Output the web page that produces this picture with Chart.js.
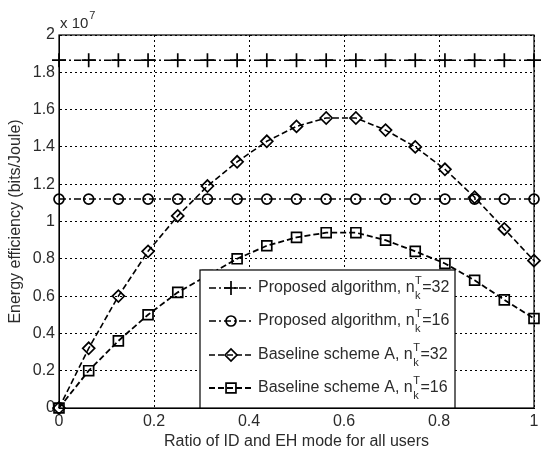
<!DOCTYPE html>
<html>
<head>
<meta charset="utf-8">
<script src="https://cdn.jsdelivr.net/npm/chart.js@4.4.0/dist/chart.umd.min.js"></script>
<style>
html,body{margin:0;padding:0;background:#fff;}
canvas{display:block;}
</style>
</head>
<body>
<canvas id="c" width="550" height="457"></canvas>
<script>
// x values: ratio of ID and EH mode
const ratios = [0, 0.0625, 0.125, 0.1875, 0.25, 0.3125, 0.375, 0.4375, 0.5, 0.5625, 0.625, 0.6875, 0.75, 0.8125, 0.875, 0.9375, 1];
// energy efficiency values in units of 1e7 bits/Joule
const proposed32 = [1.865, 1.865, 1.865, 1.865, 1.865, 1.865, 1.865, 1.865, 1.865, 1.865, 1.865, 1.865, 1.865, 1.865, 1.865, 1.865, 1.865];
const proposed16 = [1.12, 1.12, 1.12, 1.12, 1.12, 1.12, 1.12, 1.12, 1.12, 1.12, 1.12, 1.12, 1.12, 1.12, 1.12, 1.12, 1.12];
const baseline32 = [0, 0.32, 0.60, 0.84, 1.03, 1.19, 1.32, 1.43, 1.51, 1.555, 1.555, 1.49, 1.40, 1.28, 1.13, 0.96, 0.79];
const baseline16 = [0, 0.20, 0.36, 0.50, 0.62, 0.71, 0.80, 0.87, 0.915, 0.94, 0.94, 0.90, 0.84, 0.775, 0.685, 0.58, 0.48];
const seriesNames = ["Proposed algorithm, n", "Proposed algorithm, n", "Baseline scheme A, n", "Baseline scheme A, n"];
const seriesSuffix = ["=32", "=16", "=32", "=16"];
const xTicks = [0, 0.2, 0.4, 0.6, 0.8, 1];
const yTicks = [0, 0.2, 0.4, 0.6, 0.8, 1, 1.2, 1.4, 1.6, 1.8, 2];

const FONT = "Liberation Sans, Arial, sans-serif";
const TXT = "#2b2b2b";
const FS = 16;
const dashDot = [7, 3, 2, 3];
const dashed = [6, 3];

function pts(arr){ return ratios.map((x,i)=>({x:x, y:arr[i]})); }

const styles = [
  {pointStyle:'cross', radius:7, dash:dashDot, width:1.5},
  {pointStyle:'circle', radius:5, dash:dashDot, width:1.5},
  {pointStyle:'rectRot', radius:6, dash:dashed, width:1.6},
  {pointStyle:'rect', radius:7, dash:dashed, width:1.8}
];
const allData = [proposed32, proposed16, baseline32, baseline16];

const datasets = allData.map((d,i)=>({
  label: seriesNames[i] + seriesSuffix[i],
  data: pts(d),
  borderColor: '#000',
  backgroundColor: 'rgba(0,0,0,0)',
  borderWidth: styles[i].width,
  borderDash: styles[i].dash,
  pointStyle: styles[i].pointStyle,
  pointRadius: styles[i].radius,
  pointBorderWidth: 1.7,
  pointBorderColor: '#000',
  pointBackgroundColor: 'rgba(0,0,0,0)',
  tension: 0,
  clip: false
}));

function drawMarker(ctx, style, x, y){
  ctx.save();
  ctx.setLineDash([]);
  ctx.lineWidth = 1.7;
  ctx.strokeStyle = '#000';
  ctx.fillStyle = 'rgba(0,0,0,0)';
  Chart.helpers.drawPoint(ctx, {pointStyle: style.pointStyle, radius: style.radius, borderWidth: 1.7, rotation: 0}, x, y);
  ctx.restore();
}

const framePlugin = {
  id: 'frame',
  beforeDatasetsDraw(chart){
    const a = chart.chartArea, ctx = chart.ctx;
    ctx.save();
    ctx.strokeStyle = '#000';
    ctx.lineWidth = 1.2;
    ctx.setLineDash([]);
    ctx.strokeRect(a.left, a.top, a.right - a.left, a.bottom - a.top);
    // exponent label
    ctx.fillStyle = TXT;
    ctx.font = "15px " + FONT;
    ctx.textBaseline = 'alphabetic';
    ctx.textAlign = 'left';
    ctx.fillText("x 10", a.left + 1, a.top - 7);
    const w = ctx.measureText("x 10").width;
    ctx.font = "11px " + FONT;
    ctx.fillText("7", a.left + 2 + w, a.top - 16);
    ctx.restore();
  },
  afterDatasetsDraw(chart){
    const ctx = chart.ctx;
    const a = chart.chartArea;
    const bx = 200, by = 270, bw = 255, bh = a.bottom - 270;
    ctx.save();
    ctx.fillStyle = '#fff';
    ctx.fillRect(bx, by, bw, bh);
    ctx.strokeStyle = '#000';
    ctx.lineWidth = 1.2;
    ctx.setLineDash([]);
    ctx.strokeRect(bx, by, bw, bh);
    const rows = [288, 321, 355, 388];
    for (let i = 0; i < 4; i++){
      const y = rows[i];
      ctx.save();
      ctx.strokeStyle = '#000';
      ctx.lineWidth = styles[i].width;
      ctx.setLineDash(styles[i].dash);
      ctx.beginPath();
      ctx.moveTo(209, y);
      ctx.lineTo(253, y);
      ctx.stroke();
      ctx.restore();
      drawMarker(ctx, styles[i], 231, y);
      ctx.fillStyle = TXT;
      ctx.font = FS + "px " + FONT;
      ctx.textAlign = 'left';
      ctx.textBaseline = 'middle';
      let x = 258;
      ctx.fillText(seriesNames[i], x, y);
      x += ctx.measureText(seriesNames[i]).width + 0.5;
      ctx.font = "11px " + FONT;
      ctx.fillText("T", x, y - 7);
      ctx.fillText("k", x, y + 8);
      x += ctx.measureText("T").width + 0.5;
      ctx.font = FS + "px " + FONT;
      ctx.fillText(seriesSuffix[i], x, y);
    }
    ctx.restore();
  }
};

function fmt(v){ return String(+(+v).toFixed(1)); }

new Chart(document.getElementById('c'), {
  type: 'line',
  data: { datasets },
  options: {
    responsive: false,
    animation: false,
    layout: { padding: { top: 35, right: 16, left: 0, bottom: 0 } },
    plugins: { legend: { display: false }, tooltip: { enabled: false } },
    scales: {
      x: {
        type: 'linear', min: 0, max: 1,
        afterBuildTicks(s){ s.ticks = xTicks.map(v=>({value:v})); },
        afterFit(s){ s.height = 49; },
        grid: { color: '#000', lineWidth: 1, drawTicks: false },
        border: { display: true, color: '#000', dash: [2, 3] },
        ticks: { color: TXT, font: { family: FONT, size: FS }, padding: 4, callback: fmt, maxRotation: 0 },
        title: { display: true, text: 'Ratio of ID and EH mode for all users', color: TXT, font: { family: FONT, size: FS }, padding: { top: 0, bottom: 6 } }
      },
      y: {
        type: 'linear', min: 0, max: 2,
        afterBuildTicks(s){ s.ticks = yTicks.map(v=>({value:v})); },
        afterFit(s){ s.width = 59; },
        grid: { color: '#000', lineWidth: 1, drawTicks: false },
        border: { display: true, color: '#000', dash: [2, 3] },
        ticks: { color: TXT, font: { family: FONT, size: FS }, padding: 4, callback: fmt },
        title: { display: true, text: 'Energy efficiency (bits/Joule)', color: TXT, font: { family: FONT, size: FS }, padding: { top: 6, bottom: 0 } }
      }
    }
  },
  plugins: [framePlugin]
});
</script>
</body>
</html>
